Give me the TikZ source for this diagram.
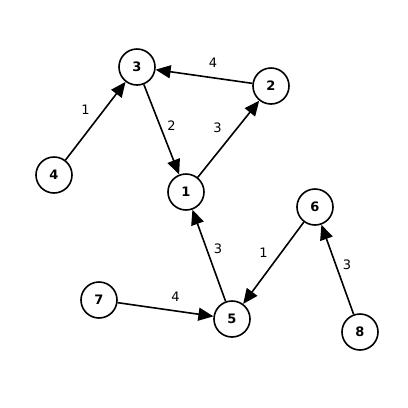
\documentclass[tikz,border=0pt]{standalone}
\usepackage{fontspec}
\setmainfont{DejaVu Sans}
\usetikzlibrary{arrows.meta}
\begin{document}
\begin{tikzpicture}[x=1pt,y=-1pt,
  vert/.style={circle,draw,line width=1.6pt,minimum size=36pt,inner sep=0pt,font=\bfseries\fontsize{13}{13}\selectfont},
  conn/.style={line width=1.6pt,-{Triangle[length=15pt,width=13pt]}},
  wlab/.style={font=\fontsize{13}{13}\selectfont,inner sep=0pt}]
\useasboundingbox (0,0) rectangle (408,408);
\node[vert] (n3) at (137,67) {3};
\node[vert] (n2) at (271,86) {2};
\node[vert] (n4) at (54,175) {4};
\node[vert] (n1) at (186,192) {1};
\node[vert] (n6) at (315,207) {6};
\node[vert] (n7) at (99,300) {7};
\node[vert] (n5) at (232,319) {5};
\node[vert] (n8) at (360,332) {8};
\draw[conn] (n4) -- node[wlab,xshift=-10pt,yshift=11pt] {1} (n3);
\draw[conn] (n3) -- node[wlab,xshift=10pt,yshift=4pt] {2} (n1);
\draw[conn] (n1) -- node[wlab,xshift=-11pt,yshift=11pt] {3} (n2);
\draw[conn] (n2) -- node[wlab,xshift=9pt,yshift=14pt] {4} (n3);
\draw[conn] (n5) -- node[wlab,xshift=9pt,yshift=7pt] {3} (n1);
\draw[conn] (n6) -- node[wlab,xshift=-10pt,yshift=10pt] {1} (n5);
\draw[conn] (n8) -- node[wlab,xshift=9.5pt,yshift=4.5pt] {3} (n6);
\draw[conn] (n7) -- node[wlab,xshift=10pt,yshift=13pt] {4} (n5);
\end{tikzpicture}
\end{document}
